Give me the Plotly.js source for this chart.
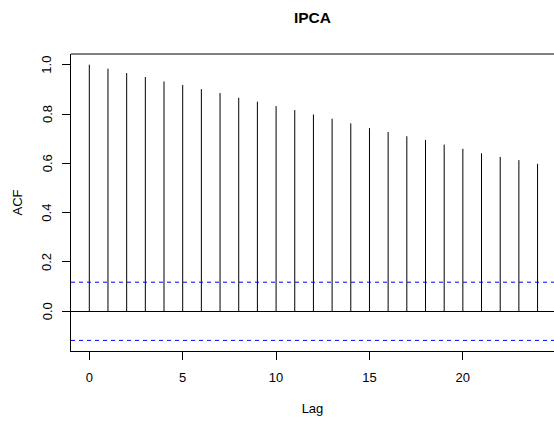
<!DOCTYPE html>
<html>
<head>
<meta charset="utf-8">
<script src="https://cdn.plot.ly/plotly-3.0.1.min.js"></script>
<style>
  html, body { margin: 0; padding: 0; background: #ffffff; }
  #chart { width: 554px; height: 423px; }
</style>
</head>
<body>
<div id="chart"></div>
<script>
// Data
const lags = [0,1,2,3,4,5,6,7,8,9,10,11,12,13,14,15,16,17,18,19,20,21,22,23,24];
const acfValues = [1.000,0.984,0.966,0.950,0.932,0.918,0.901,0.885,0.866,0.850,0.832,0.816,0.798,0.781,0.762,0.743,0.727,0.710,0.695,0.676,0.659,0.641,0.626,0.613,0.598];
const ciBound = 0.118;
const xTickVals = [0,5,10,15,20];
const xTickText = ['0','5','10','15','20'];
const yTickVals = [0,0.2,0.4,0.6,0.8,1.0];
const yTickText = ['0.0','0.2','0.4','0.6','0.8','1.0'];

const segX = [], segY = [];
lags.forEach((lag, i) => {
  segX.push(lag, lag, null);
  segY.push(0, acfValues[i], null);
});

const font = 'Liberation Sans, Arial, Helvetica, sans-serif';

const traces = [{
  type: 'scatter',
  mode: 'lines',
  x: segX,
  y: segY,
  line: { color: '#000000', width: 1 },
  hoverinfo: 'skip',
  showlegend: false
}];

// rotated y tick labels (R style: parallel to the axis)
const yLabelAnnotations = yTickVals.map((v, i) => ({
  xref: 'paper', x: 0, yref: 'y', y: v,
  text: yTickText[i],
  textangle: -90,
  showarrow: false,
  xanchor: 'center', yanchor: 'middle',
  xshift: -24,
  font: { family: font, size: 13, color: '#000000' }
}));

const layout = {
  width: 554,
  height: 423,
  paper_bgcolor: '#ffffff',
  plot_bgcolor: '#ffffff',
  margin: { l: 71, r: 0, t: 54, b: 72, pad: 0 },
  showlegend: false,
  font: { family: font, size: 13, color: '#000000' },
  title: {
    text: '<b>IPCA</b>',
    font: { family: font, size: 15.5, color: '#000000' },
    x: 0.5, xref: 'paper', xanchor: 'center',
    y: 1 - 18 / 423, yref: 'container', yanchor: 'middle'
  },
  xaxis: {
    range: [-0.98, 24.88],
    tickmode: 'array',
    tickvals: xTickVals,
    ticktext: xTickText,
    ticks: 'outside',
    ticklen: 8,
    tickwidth: 1,
    tickcolor: '#000000',
    ticklabelstandoff: 6,
    showgrid: false,
    zeroline: false,
    showline: true,
    linecolor: '#000000',
    linewidth: 1,
    tickfont: { family: font, size: 13, color: '#000000' },
    title: { text: 'Lag', font: { family: font, size: 13, color: '#000000' }, standoff: 20 }
  },
  yaxis: {
    range: [-0.161, 1.0434],
    tickmode: 'array',
    tickvals: yTickVals,
    ticktext: yTickText,
    showticklabels: false,
    ticks: 'outside',
    ticklen: 8,
    tickwidth: 1,
    tickcolor: '#000000',
    showgrid: false,
    zeroline: true,
    zerolinecolor: '#000000',
    zerolinewidth: 1,
    showline: true,
    linecolor: '#000000',
    linewidth: 1,
    title: { text: 'ACF', font: { family: font, size: 13, color: '#000000' }, standoff: 36 }
  },
  annotations: yLabelAnnotations,
  shapes: [
    { type: 'line', xref: 'paper', yref: 'paper', x0: 0, x1: 1, y0: 1, y1: 1,
      line: { color: '#000000', width: 1 } },
    { type: 'line', xref: 'paper', yref: 'y', x0: 0, x1: 1, y0: ciBound, y1: ciBound,
      line: { color: '#0000ff', width: 1, dash: '4px,4px' } },
    { type: 'line', xref: 'paper', yref: 'y', x0: 0, x1: 1, y0: -ciBound, y1: -ciBound,
      line: { color: '#0000ff', width: 1, dash: '4px,4px' } }
  ]
};

Plotly.newPlot('chart', traces, layout, { displayModeBar: false, staticPlot: true });
</script>
</body>
</html>
